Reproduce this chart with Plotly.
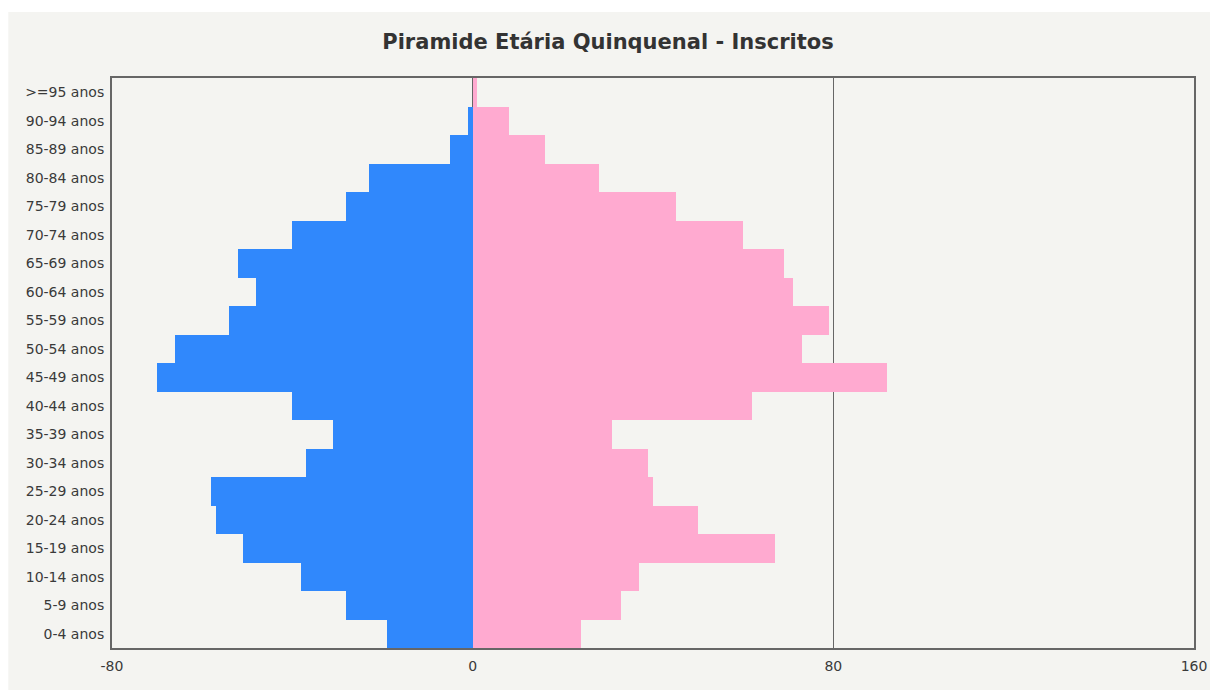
import plotly.graph_objects as go

age_groups = ["0-4 anos", "5-9 anos", "10-14 anos", "15-19 anos", "20-24 anos",
              "25-29 anos", "30-34 anos", "35-39 anos", "40-44 anos", "45-49 anos",
              "50-54 anos", "55-59 anos", "60-64 anos", "65-69 anos", "70-74 anos",
              "75-79 anos", "80-84 anos", "85-89 anos", "90-94 anos", ">=95 anos"]
masculino = [19, 28, 38, 51, 57, 58, 37, 31, 40, 70, 66, 54, 48, 52, 40, 28, 23, 5, 1, 0]
feminino = [24, 33, 37, 67, 50, 40, 39, 31, 62, 92, 73, 79, 71, 69, 60, 45, 28, 16, 8, 1]
x_ticks = [-80, 0, 80, 160]

BLUE = "#3088fc"
PINK = "#ffaad0"
BG = "#f4f4f1"
FRAME = "#666666"
TXT = "#3a3a3a"
FONT = "DejaVu Sans"

fig = go.Figure()
fig.add_trace(go.Bar(y=age_groups, x=[-v for v in masculino], orientation="h",
                     marker=dict(color=BLUE, line=dict(width=0)), name="Masculino"))
fig.add_trace(go.Bar(y=age_groups, x=feminino, orientation="h",
                     marker=dict(color=PINK, line=dict(width=0)), name="Feminino"))

# the page body adds an 8px offset; target plot area x 112..1197, y 78..648
OFF = 8
W, H = 1219 - OFF, 695 - OFF
L, T = 112 - OFF, 78 - OFF
R = W - (1197 - OFF)
B = H - (648 - OFF)
pw, ph = W - L - R, H - T - B

def px2x(px):
    return (px - OFF - L) / pw

def py2y(py):
    return (H - B - (py - OFF)) / ph

fig.add_shape(type="rect", xref="paper", yref="paper",
              x0=px2x(8), x1=px2x(1213), y0=py2y(690), y1=py2y(12),
              fillcolor=BG, line=dict(width=0), layer="below")

fig.update_layout(
    width=W, height=H,
    margin=dict(l=L, r=R, t=T, b=B),
    paper_bgcolor="white",
    plot_bgcolor=BG,
    barmode="overlay",
    bargap=0,
    showlegend=False,
    title=dict(text="<b>Piramide Etária Quinquenal - Inscritos</b>",
               x=(608 - OFF) / W, xref="container", xanchor="center",
               y=1 - (42 - OFF) / H, yref="container", yanchor="middle",
               font=dict(family=FONT, size=21, color="#333333")),
    font=dict(family=FONT, size=14, color=TXT),
)
fig.update_xaxes(range=[-80, 160], tickvals=x_ticks, ticktext=[str(v) for v in x_ticks],
                 showgrid=True, gridcolor=FRAME, gridwidth=1, zeroline=False,
                 showline=True, linecolor=FRAME, linewidth=2, mirror=True,
                 ticks="outside", ticklen=4, tickcolor=BG,
                 tickfont=dict(family=FONT, size=14, color=TXT))
fig.update_yaxes(categoryorder="array", categoryarray=age_groups,
                 showgrid=False, zeroline=False,
                 showline=True, linecolor=FRAME, linewidth=2, mirror=True,
                 ticks="outside", ticklen=3, tickcolor=BG,
                 tickfont=dict(family=FONT, size=14, color=TXT))

fig.write_html("out.html")
